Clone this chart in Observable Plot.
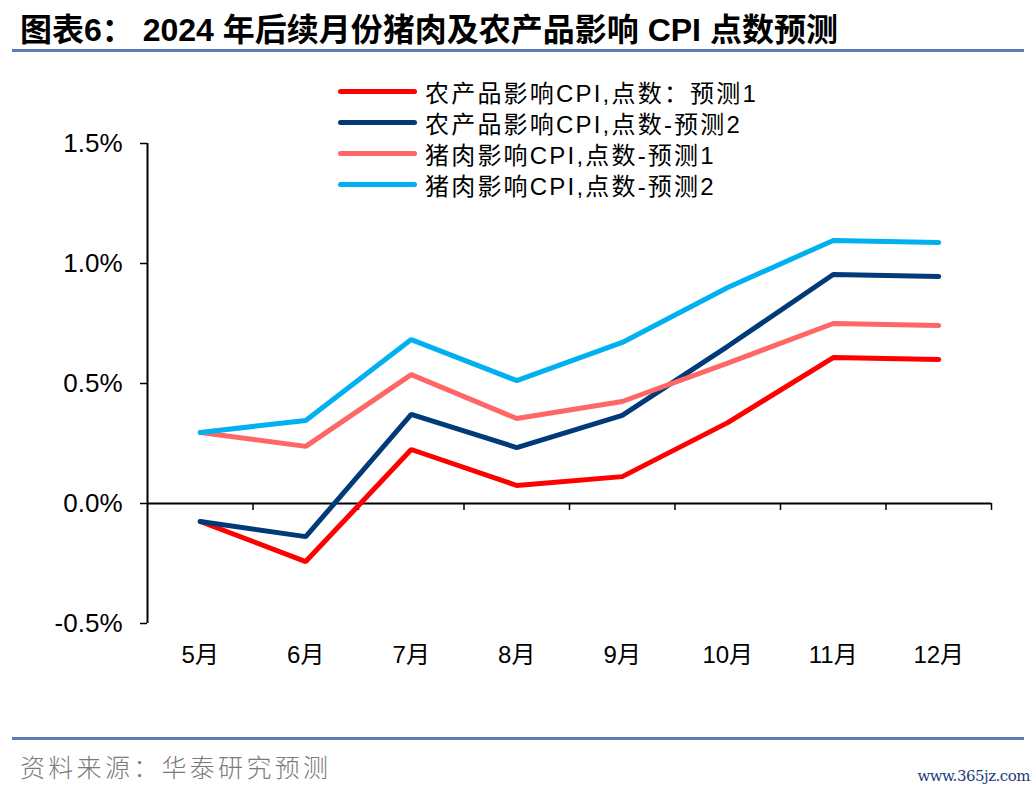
<!DOCTYPE html>
<html>
<head>
<meta charset="utf-8">
<script src="https://cdn.jsdelivr.net/npm/d3@7"></script>
<script src="https://cdn.jsdelivr.net/npm/@observablehq/plot@0.6"></script>
<style>
  html, body { margin: 0; padding: 0; background: #fff; }
  #wrap { position: relative; width: 1036px; height: 792px; overflow: hidden; font-family: "Liberation Sans", "Noto Sans CJK SC", sans-serif; }
  #title { position: absolute; left: 20px; top: 10px; font-size: 32px; font-weight: bold; color: #000; font-family: "Liberation Sans", "Noto Sans CJK SC", sans-serif; white-space: nowrap; line-height: 40px; }
  .rule { position: absolute; left: 12px; width: 1012px; height: 3px; background: #5B7DB3; }
  #chart { position: absolute; left: 0; top: 60px; }
  #legend { position: absolute; left: 338px; top: 76px; }
  .li { display: flex; align-items: center; height: 31px; font-size: 24px; color: #000; font-family: "Liberation Sans", "Noto Sans CJK SC", sans-serif; white-space: nowrap; letter-spacing: 2.2px; }
  .sw { width: 79px; height: 5px; border-radius: 3px; margin-right: 8px; }
  #source { position: absolute; left: 20px; top: 748px; font-size: 25px; color: #7a7a7a; font-family: "Noto Sans CJK SC", sans-serif; font-weight: 300; letter-spacing: 3.3px; }
  #wm { position: absolute; right: 6px; top: 767px; font-size: 15px; color: #1d3c78; font-family: "DejaVu Serif", serif; letter-spacing: -0.5px; }
</style>
</head>
<body>
<div id="wrap">
  <div id="title">图表6：&nbsp;2024 年后续月份猪肉及农产品影响 CPI 点数预测</div>
  <div class="rule" style="top:49px"></div>
  <div id="chart"></div>
  <div id="legend"></div>
  <div class="rule" style="top:737px"></div>
  <div id="source">资料来源：华泰研究预测</div>
  <div id="wm">www.365jz.com</div>
</div>
<script>
const months = ["5月", "6月", "7月", "8月", "9月", "10月", "11月", "12月"];
const seriesNames = ["农产品影响CPI点数：预测1", "农产品影响CPI点数-预测2", "猪肉影响CPI点数-预测1", "猪肉影响CPI点数-预测2"];
const legendLabels = ["农产品影响CPI,点数：预测1", "农产品影响CPI,点数-预测2", "猪肉影响CPI,点数-预测1", "猪肉影响CPI,点数-预测2"];
const seriesColors = ["#FF0000", "#003A78", "#FF6666", "#00B0F0"];
const agri1 = [-0.075, -0.242, 0.225, 0.075, 0.112, 0.337, 0.608, 0.600];
const agri2 = [-0.075, -0.138, 0.371, 0.233, 0.367, 0.655, 0.954, 0.946];
const pork1 = [0.296, 0.238, 0.537, 0.354, 0.425, 0.585, 0.750, 0.742];
const pork2 = [0.296, 0.346, 0.683, 0.512, 0.671, 0.900, 1.096, 1.088];
const yTicks = [-0.5, 0, 0.5, 1.0, 1.5];

const allSeries = [agri1, agri2, pork1, pork2];
const table = [];
allSeries.forEach((vals, s) => {
  vals.forEach((v, i) => table.push({series: seriesNames[s], idx: i, pos: i + 0.5, value: v}));
});
const boundaries = d3.range(1, months.length + 1);

const plot = Plot.plot({
  width: 1036,
  height: 640,
  marginTop: 83,
  marginBottom: 77,
  marginLeft: 147,
  marginRight: 45,
  style: {fontFamily: "Liberation Sans, Noto Sans CJK SC, sans-serif", background: "#fff"},
  x: {type: "linear", domain: [0, months.length], axis: null},
  y: {domain: [-0.5, 1.5], axis: null},
  color: {domain: seriesNames, range: seriesColors},
  marks: [
    Plot.axisY({ticks: yTicks, label: null, tickSize: 7, tickPadding: 18, tickFormat: d => d.toFixed(1) + "%", fontSize: 26, stroke: "#000", strokeWidth: 1.5, color: "#000"}),
    Plot.axisX({ticks: months.map((m, i) => i + 0.5), label: null, tickFormat: d => months[Math.floor(d)], tickSize: 0, tickPadding: 22, fontSize: 24, color: "#000"}),
    Plot.ruleX([0], {stroke: "#000", strokeWidth: 2}),
    Plot.ruleY([0], {stroke: "#000", strokeWidth: 2}),
    Plot.ruleX(boundaries, {x: d => d, y1: 0, y2: -0.029, stroke: "#000", strokeWidth: 1.5}),
    Plot.line(table, {x: "pos", y: "value", z: "series", stroke: "series", strokeWidth: 5, strokeLinecap: "round", strokeLinejoin: "miter"})
  ]
});
document.getElementById("chart").appendChild(plot);

const legend = document.getElementById("legend");
legendLabels.forEach((lab, i) => {
  const row = document.createElement("div");
  row.className = "li";
  const sw = document.createElement("span");
  sw.className = "sw";
  sw.style.background = seriesColors[i];
  const tx = document.createElement("span");
  tx.textContent = lab;
  row.appendChild(sw);
  row.appendChild(tx);
  legend.appendChild(row);
});
</script>
</body>
</html>
